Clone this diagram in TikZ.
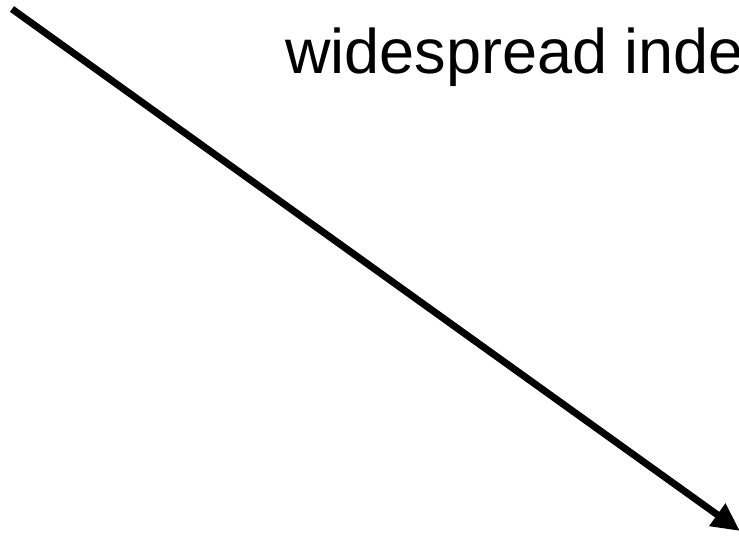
\documentclass[tikz,border=0pt]{standalone}
\usepackage{fontspec}
\setmainfont{Liberation Sans}
\usetikzlibrary{arrows.meta}
\begin{document}
\begin{tikzpicture}[x=1pt,y=-1pt,
  conn/.style={line width=7pt,-{Triangle[length=28pt,width=26pt]}},
  lbl/.style={inner sep=0pt,anchor=base west,font=\fontsize{63pt}{70pt}\selectfont}]
\useasboundingbox (0,0) rectangle (739,537);
\coordinate (s) at (12,9);
\coordinate (e) at (740,531);
\draw[conn] (s) -- (e);
\node[lbl] (t) at (285,74) {widespread inde};
\end{tikzpicture}
\end{document}
